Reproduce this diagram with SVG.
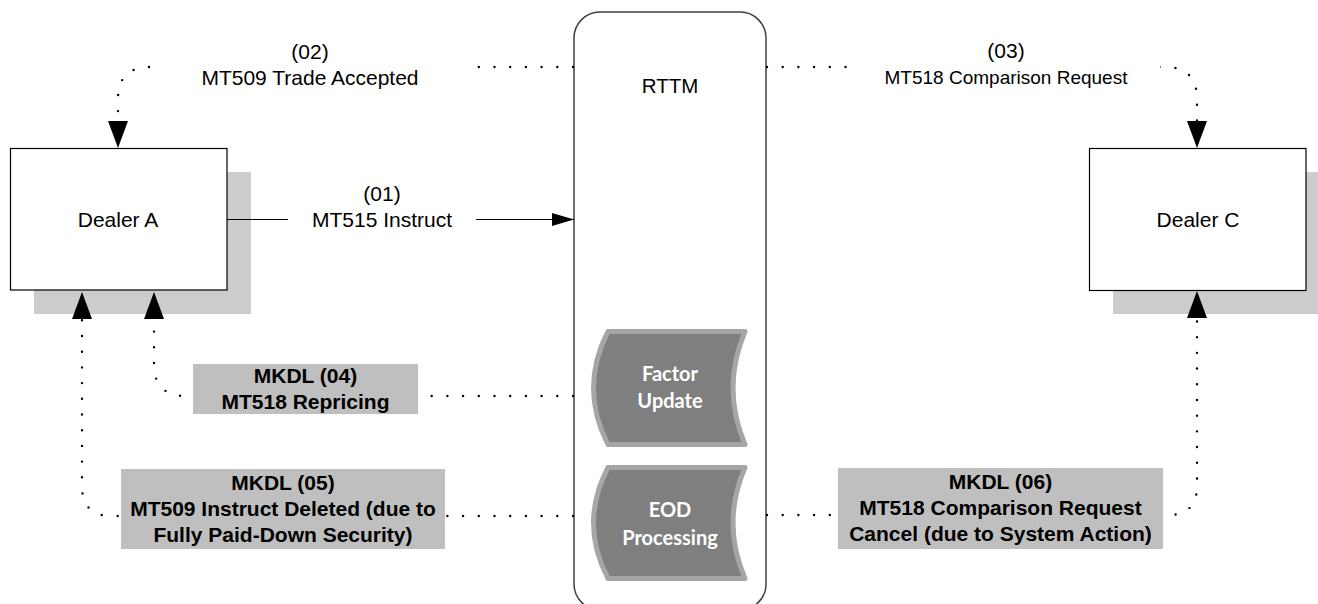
<svg xmlns="http://www.w3.org/2000/svg" width="1318" height="604" viewBox="0 0 1318 604">
  <style>
    .shadow { fill: #cccccc; stroke: none; }
    .box { fill: #ffffff; stroke: #000000; stroke-width: 1.2; }
    .rttm { fill: #ffffff; stroke: #404040; stroke-width: 1.5; }
    .proc { fill: #7f7f7f; stroke: #a6a6a6; stroke-width: 5; stroke-linejoin: round; }
    .proc-t { font-family: Lato, "Open Sans", sans-serif; font-weight: bold; font-size: 20px; fill: #ffffff; text-anchor: middle; }
    .t { font-family: "Liberation Sans", Arial, sans-serif; font-size: 21px; fill: #000000; text-anchor: middle; }
    .tb { font-family: "Liberation Sans", Arial, sans-serif; font-size: 21px; font-weight: bold; fill: #000000; text-anchor: middle; }
    .dot { fill: none; stroke: #000000; stroke-width: 2.4; stroke-linecap: round; stroke-dasharray: 0 15.7; }
    .solid { fill: none; stroke: #000000; stroke-width: 1.2; }
    .lbl-bg { fill: #ffffff; stroke: none; }
    .mk-bg { fill: #bfbfbf; stroke: none; }
  </style>
  <defs>
    <marker id="big" markerUnits="userSpaceOnUse" markerWidth="28" markerHeight="22" refX="27" refY="10" orient="auto">
      <path d="M0,0 L27,10 L0,20 Z" fill="#000000"/>
    </marker>
    <marker id="small" markerUnits="userSpaceOnUse" markerWidth="24" markerHeight="14" refX="22" refY="6.5" orient="auto">
      <path d="M0,0 L22,6.5 L0,13 Z" fill="#000000"/>
    </marker>
  </defs>

  <g id="dealer-a">
    <rect class="shadow" x="34" y="172" width="217" height="142"/>
    <rect class="box" x="10.5" y="148.5" width="216.5" height="141.5"/>
    <text class="t" x="118" y="227">Dealer A</text>
  </g>

  <g id="dealer-c">
    <rect class="shadow" x="1113" y="172" width="217" height="142"/>
    <rect class="box" x="1089.5" y="148.5" width="216.5" height="142"/>
    <text class="t" x="1198" y="227">Dealer C</text>
  </g>

  <g id="rttm">
    <rect class="rttm" x="574" y="12" width="192" height="598" rx="26" ry="26"/>
    <text class="t" x="670" y="93" style="font-size:20.5px">RTTM</text>
  </g>

  <g id="factor-update">
    <path class="proc" d="M608,331.5 L745,331.5 Q721,388 745,444.5 L608,444.5 Q579,388 608,331.5 Z"/>
    <text class="proc-t" x="670" y="381">Factor</text>
    <text class="proc-t" x="670" y="408">Update</text>
  </g>

  <g id="eod-processing">
    <path class="proc" d="M608,467.5 L745,467.5 Q721,523 745,578.5 L608,578.5 Q579,523 608,467.5 Z"/>
    <text class="proc-t" x="670" y="517">EOD</text>
    <text class="proc-t" x="670" y="545">Processing</text>
  </g>

  <g id="connectors">
    <path id="c01" class="solid" d="M227,219.5 L574,219.5" marker-end="url(#small)"/>
    <path id="c02" class="dot" d="M573,67 H150 Q118,67 118,99 V148" marker-end="url(#big)"/>
    <path id="c03" class="dot" d="M767,67 H1165 Q1197,67 1197,99 V148" marker-end="url(#big)"/>
    <path id="c04" class="dot" d="M573,396 H186 Q154,396 154,364 V292" marker-end="url(#big)"/>
    <path id="c05" class="dot" d="M573,516 H112 Q82,516 82,486 V292" marker-end="url(#big)"/>
    <path id="c06" class="dot" d="M767,515 H1168 Q1197,515 1197,486 V291" marker-end="url(#big)"/>
  </g>

  <g id="label-01">
    <rect class="lbl-bg" x="288" y="184" width="188" height="48"/>
    <text class="t" x="382" y="201">(01)</text>
    <text class="t" x="382" y="227">MT515 Instruct</text>
  </g>

  <g id="label-02">
    <rect class="lbl-bg" x="152" y="40" width="320" height="52"/>
    <text class="t" x="310" y="59">(02)</text>
    <text class="t" x="310" y="85">MT509 Trade Accepted</text>
  </g>

  <g id="label-03">
    <rect class="lbl-bg" x="852" y="40" width="308" height="52"/>
    <text class="t" x="1006" y="58">(03)</text>
    <text class="t" x="1006" y="84" style="font-size:19px">MT518 Comparison Request</text>
  </g>

  <g id="label-04">
    <rect class="mk-bg" x="193" y="364" width="225" height="50"/>
    <text class="tb" x="305.5" y="383">MKDL (04)</text>
    <text class="tb" x="305.5" y="409">MT518 Repricing</text>
  </g>

  <g id="label-05">
    <rect class="mk-bg" x="121" y="469" width="324" height="80"/>
    <text class="tb" x="283" y="490">MKDL (05)</text>
    <text class="tb" x="283" y="516">MT509 Instruct Deleted (due to</text>
    <text class="tb" x="283" y="542">Fully Paid-Down Security)</text>
  </g>

  <g id="label-06">
    <rect class="mk-bg" x="838" y="468" width="325" height="81"/>
    <text class="tb" x="1000.5" y="489">MKDL (06)</text>
    <text class="tb" x="1000.5" y="515">MT518 Comparison Request</text>
    <text class="tb" x="1000.5" y="541">Cancel (due to System Action)</text>
  </g>
</svg>
